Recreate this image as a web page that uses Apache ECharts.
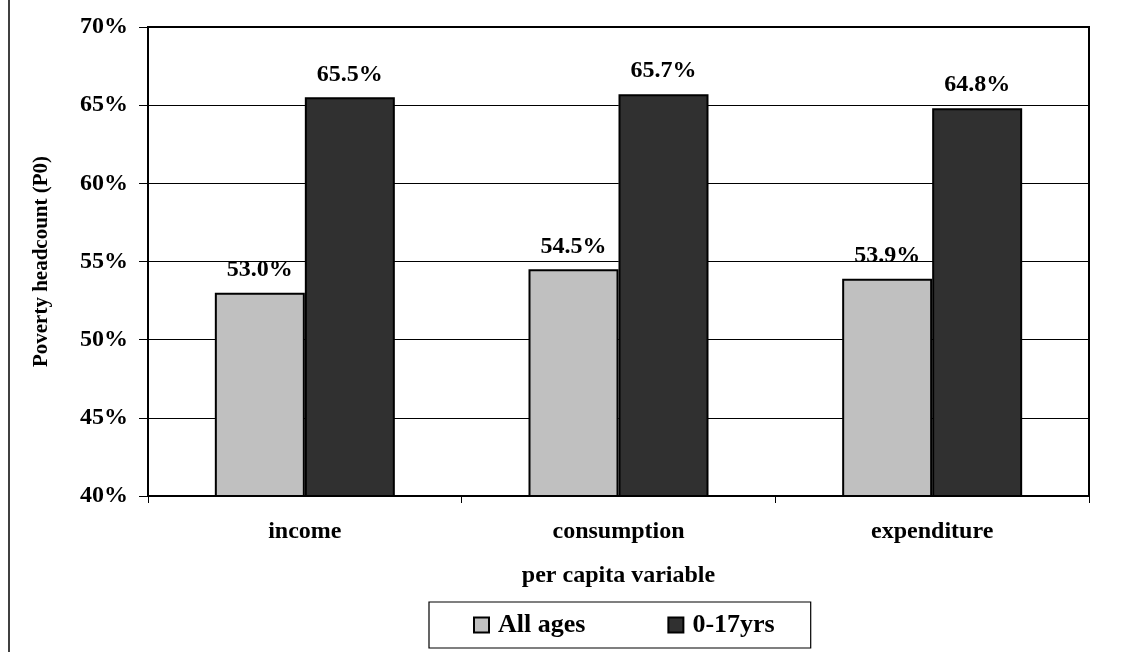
<!DOCTYPE html>
<html>
<head>
<meta charset="utf-8">
<script src="https://cdn.jsdelivr.net/npm/echarts@6/dist/echarts.min.js"></script>
<style>
  html, body { margin: 0; padding: 0; background: #fff; }
  #chart { width: 1123px; height: 652px; }
</style>
</head>
<body>
<div id="chart"></div>
<script>
// Poverty headcount by per capita welfare measure
const categories = ['income', 'consumption', 'expenditure'];
const allAges = [53.0, 54.5, 53.9];
const children = [65.5, 65.7, 64.8];
const seriesNames = ['All ages', '0-17yrs'];

const FONT = '"Liberation Serif", "Times New Roman", serif';

const chart = echarts.init(document.getElementById('chart'));

const labelStyle = {
  show: true,
  position: 'top',
  distance: 11,
  fontFamily: FONT,
  fontWeight: 'bold',
  fontSize: 24,
  color: '#000',
  formatter: p => p.value.toFixed(1) + '%'
};

chart.setOption({
  animation: false,
  backgroundColor: '#fff',
  graphic: [{
    type: 'line',
    shape: { x1: 9, y1: 0, x2: 9, y2: 652 },
    style: { stroke: '#000', lineWidth: 1.5 }
  }],
  grid: {
    left: 148, right: 34, top: 27, bottom: 156,
    show: true, borderColor: '#000', borderWidth: 2, backgroundColor: 'transparent'
  },
  legend: {
    data: seriesNames,
    top: 602,
    left: 429,
    padding: [10, 36, 10, 44],
    itemGap: 82,
    itemWidth: 15,
    itemHeight: 15,
    borderColor: '#000',
    borderWidth: 1.2,
    textStyle: { fontFamily: FONT, fontWeight: 'bold', fontSize: 26, color: '#000', padding: [0, 0, 0, 4] },
    icon: 'rect'
  },
  xAxis: {
    type: 'category',
    data: categories,
    name: 'per capita variable',
    nameLocation: 'middle',
    nameGap: 68,
    nameTextStyle: { fontFamily: FONT, fontWeight: 'bold', fontSize: 24, color: '#000' },
    axisLine: { lineStyle: { color: '#000', width: 2 } },
    axisTick: { show: true, alignWithLabel: false, length: 7, lineStyle: { color: '#000' } },
    axisLabel: { fontFamily: FONT, fontWeight: 'bold', fontSize: 24, color: '#000', margin: 24 }
  },
  yAxis: {
    type: 'value',
    min: 40, max: 70, interval: 5,
    name: 'Poverty headcount (P0)',
    nameLocation: 'middle',
    nameGap: 96,
    nameTextStyle: { fontFamily: FONT, fontWeight: 'bold', fontSize: 21, color: '#000' },
    axisLine: { show: true, lineStyle: { color: '#000', width: 2 } },
    axisTick: { show: true, length: 9, lineStyle: { color: '#000' } },
    axisLabel: { fontFamily: FONT, fontWeight: 'bold', fontSize: 24, color: '#000', margin: 20, formatter: v => v + '%' },
    splitLine: { show: true, lineStyle: { color: '#000', width: 1 } }
  },
  series: [
    {
      name: seriesNames[0],
      type: 'bar',
      data: allAges,
      barWidth: 90,
      barGap: '0%',
      itemStyle: { color: '#c0c0c0', borderColor: '#000', borderWidth: 2 },
      label: labelStyle
    },
    {
      name: seriesNames[1],
      type: 'bar',
      data: children,
      barWidth: 90,
      itemStyle: { color: '#303030', borderColor: '#000', borderWidth: 2 },
      label: labelStyle
    }
  ]
});
</script>
</body>
</html>
